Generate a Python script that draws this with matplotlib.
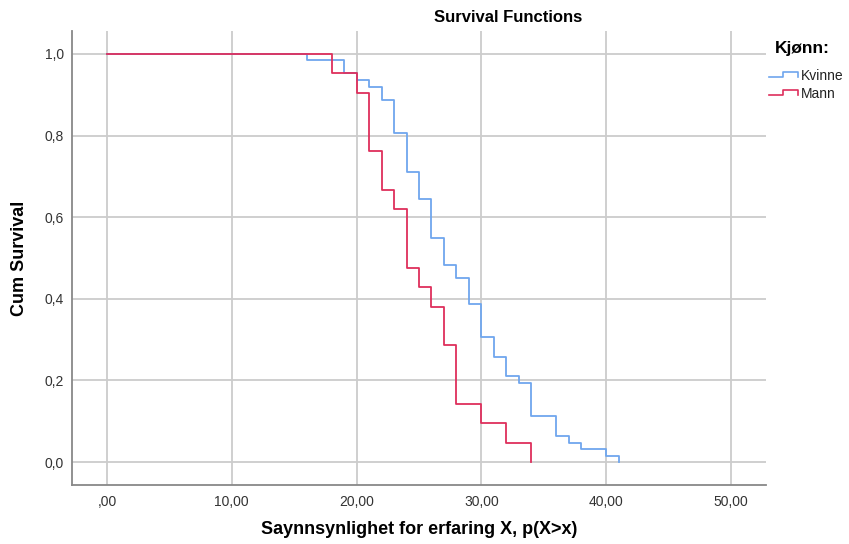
#!/usr/bin/env python3
import matplotlib
matplotlib.use("Agg")
import matplotlib.pyplot as plt
from matplotlib.lines import Line2D
from matplotlib.ticker import FuncFormatter

plt.rcParams['font.family'] = ['Liberation Sans', 'DejaVu Sans']

# Kaplan-Meier step data (time of drop, survival after drop)
kvinne_t = [0, 16, 19, 20, 21, 22, 23, 24, 25, 26, 27, 28, 29, 30, 31, 32, 33, 34, 36, 37, 38, 40, 41]
kvinne_s = [1.0, 0.984, 0.952, 0.935, 0.919, 0.887, 0.806, 0.710, 0.645, 0.548, 0.484, 0.452,
            0.387, 0.306, 0.258, 0.210, 0.194, 0.113, 0.065, 0.048, 0.032, 0.016, 0.0]
mann_t = [0, 18, 20, 21, 22, 23, 24, 25, 26, 27, 28, 30, 32, 34]
mann_s = [1.0, 0.952, 0.905, 0.762, 0.667, 0.619, 0.476, 0.429, 0.381, 0.286, 0.143,
          0.095, 0.048, 0.0]

x_ticks = [0, 10, 20, 30, 40, 50]
y_ticks = [0.0, 0.2, 0.4, 0.6, 0.8, 1.0]
groups = ['Kvinne', 'Mann']

BLUE = '#6fa6ee'
RED = '#de2f5c'
GRID = '#cccccc'
W, H = 849, 544


def fx(px):
    return px / W


def fy(py):
    return 1 - py / H


fig = plt.figure(figsize=(8.49, 5.44), dpi=100)
ax = fig.add_axes([fx(72), fy(485), (766 - 72) / W, (485 - 31) / H])

ax.step(kvinne_t, kvinne_s, where='post', color=BLUE, lw=1.3)
ax.step(mann_t, mann_s, where='post', color=RED, lw=1.3)

ax.set_xlim(-2.8, 52.8)
ax.set_ylim(-0.056, 1.056)
ax.set_xticks(x_ticks)
ax.set_yticks(y_ticks)


def fmt_x(v, pos):
    s = f"{v:.2f}".replace('.', ',')
    return s[1:] if s.startswith('0,') else s


def fmt_y(v, pos):
    return f"{v:.1f}".replace('.', ',')


ax.xaxis.set_major_formatter(FuncFormatter(fmt_x))
ax.yaxis.set_major_formatter(FuncFormatter(fmt_y))
ax.tick_params(length=0, labelsize=10, colors='#333333')
ax.tick_params(axis='x', pad=7)
ax.tick_params(axis='y', pad=6)
ax.grid(True, color=GRID, lw=1.3)
ax.set_axisbelow(True)
for side in ['top', 'right']:
    ax.spines[side].set_visible(False)
for side in ['left', 'bottom']:
    ax.spines[side].set_color('#888888')
    ax.spines[side].set_linewidth(1.3)

# axis labels and title placed in figure pixels
fig.text(fx(419), fy(530), 'Saynnsynlighet for erfaring X, p(X>x)', ha='center', va='center',
         fontsize=13, fontweight='bold')
fig.text(fx(20), fy(258), 'Cum Survival', ha='center', va='center', rotation=90,
         fontsize=13, fontweight='bold')
fig.text(fx(508), fy(17), 'Survival Functions', ha='center', va='center',
         fontsize=12, fontweight='bold')

# legend drawn by hand with step-shaped keys
fig.text(fx(775), fy(49), 'Kjønn:', ha='left', va='center', fontsize=12.5, fontweight='bold')
for i, (name, col) in enumerate(zip(groups, [BLUE, RED])):
    yc = 77 + i * 18
    xs = [fx(769), fx(783), fx(783), fx(798), fx(798)]
    ys = [fy(yc), fy(yc), fy(yc - 5), fy(yc - 5), fy(yc)]
    fig.add_artist(Line2D(xs, ys, color=col, lw=1.2, transform=fig.transFigure))
    fig.text(fx(801), fy(yc - 1), name, ha='left', va='center', fontsize=10, color='#222222')

fig.savefig('out.png', dpi=100)
